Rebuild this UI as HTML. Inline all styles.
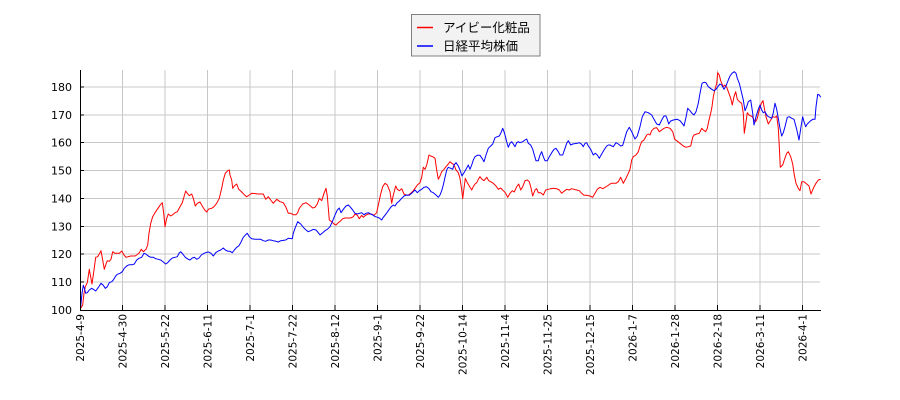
<!DOCTYPE html>
<html><head><meta charset="utf-8"><style>
html,body{margin:0;padding:0;background:#fff;}
svg{display:block;}
text{font-family:"DejaVu Sans","Liberation Sans","Noto Sans CJK JP",sans-serif;fill:#000;}
</style></head><body>
<svg width="900" height="400" viewBox="0 0 900 400" xmlns="http://www.w3.org/2000/svg">
<rect width="900" height="400" fill="#fff"/>
<g stroke="#c8c8c8" stroke-width="1" shape-rendering="crispEdges">
<line x1="80" y1="282.1" x2="820" y2="282.1"/>
<line x1="80" y1="254.2" x2="820" y2="254.2"/>
<line x1="80" y1="226.4" x2="820" y2="226.4"/>
<line x1="80" y1="198.5" x2="820" y2="198.5"/>
<line x1="80" y1="170.6" x2="820" y2="170.6"/>
<line x1="80" y1="142.7" x2="820" y2="142.7"/>
<line x1="80" y1="114.9" x2="820" y2="114.9"/>
<line x1="80" y1="87" x2="820" y2="87"/>
<line x1="122.5" y1="70" x2="122.5" y2="310"/>
<line x1="165" y1="70" x2="165" y2="310"/>
<line x1="207.5" y1="70" x2="207.5" y2="310"/>
<line x1="250" y1="70" x2="250" y2="310"/>
<line x1="292.5" y1="70" x2="292.5" y2="310"/>
<line x1="335" y1="70" x2="335" y2="310"/>
<line x1="377.5" y1="70" x2="377.5" y2="310"/>
<line x1="420" y1="70" x2="420" y2="310"/>
<line x1="462.5" y1="70" x2="462.5" y2="310"/>
<line x1="505" y1="70" x2="505" y2="310"/>
<line x1="547.5" y1="70" x2="547.5" y2="310"/>
<line x1="590" y1="70" x2="590" y2="310"/>
<line x1="632.5" y1="70" x2="632.5" y2="310"/>
<line x1="675" y1="70" x2="675" y2="310"/>
<line x1="717.5" y1="70" x2="717.5" y2="310"/>
<line x1="760" y1="70" x2="760" y2="310"/>
<line x1="802.5" y1="70" x2="802.5" y2="310"/>
</g>
<polyline fill="none" stroke="#ff0000" stroke-width="1" stroke-linejoin="round" points="80.7,308.3 82.7,305 84,293.3 85.3,286.7 87.3,282.7 89.3,269.3 92,284 94,270 95.7,257.3 97.7,256.7 100,252.7 101,250.7 102.7,260 104.3,269.3 106,264 107.3,260.7 109.3,261.3 111,259.3 112.7,251.7 115,253.3 119.3,253.3 121.7,251 124,255 126,257.3 130.7,256 135,256 136.7,255 139.3,252.7 141.3,249.3 143.3,251.7 146,249.3 147.7,245 149,233.3 150.7,223.3 152.7,216.7 155,212.7 157.3,209.3 160,205.3 162.3,202.7 163.7,213.3 165,226.7 166.7,218.3 168.3,214 170.7,216 172.7,214.7 175,212.7 177.3,211.7 180,206.7 182.3,202.7 184,196.7 185.7,191 187.3,193.3 189.3,195.7 191.7,194 193.3,198.3 195.3,206 197.3,203.3 200,202 202.7,206.7 204.7,210 206.7,212 208.7,209 211.7,208.3 214,206.7 216.7,203.3 219.3,198.3 221.7,188.3 223.3,180 225.3,173.3 227.7,170.7 229.3,170 230,175 231.7,180 232.7,188.3 234.3,186 236.7,184 238.7,189.3 241.7,192 244.3,194.7 246.7,196.7 249.3,195 251.7,193.3 258.3,194 263.3,194 265.7,199.3 268.3,196.7 270.7,200 273.3,203.3 276.7,199.3 280,201.7 283.3,202.7 285.7,206.7 288.3,213.3 290.7,213.3 293.3,214.7 296,214.7 297.7,212.7 299.3,208.3 302.7,204 306,202.7 309.3,205 312.7,208 315,207.3 317.3,204 319.3,198.3 321.7,200.7 324,193.3 326,188.3 327.3,196 329.3,220 331.7,221.7 334,224 336,225 338.3,222.7 340.7,220.7 342.7,218.7 345,218 350.7,218 353.3,216.7 355,214 357.3,215.3 359.3,218.7 361.7,215.3 363.3,217.3 366,215 368.3,214 371.7,214 374,215.3 376.7,212.7 378.3,205 380.7,194 382.7,186.7 385,183.3 387.3,185 390,191.7 391.7,203.3 393.3,195 395.7,186 397.3,189.3 399.3,190.7 401.7,188.7 404,194 406,195 408.3,195.3 410.7,193.3 413.3,190.7 415,188.3 417.3,185 420,182.7 421.7,177.3 423.3,167.3 425,169.3 426.7,165 429,155 430.7,156 432.7,156.7 435,158.3 436.7,170 438.3,179.3 440,176 441.7,171.7 444,169.3 446,166.7 448.3,164 450,161.7 451.7,163.3 454,164.7 456,170 458.3,172.7 460,178.3 461.7,190 462.7,198.7 464,188.3 465.3,178.3 467.3,182.7 469.3,186 471.7,190 473.3,186.7 475,184 476.7,182.7 478.7,178.7 480,176.7 482,179.3 484,180.7 486.7,177.3 488.7,180.7 490.7,181.7 493.3,183.3 496,186 498.3,189.3 500.7,188 503.3,190.7 505.3,192.7 507.7,197.3 510,193.3 512.3,190.7 514.3,192 516.7,186.7 518.7,184 520.7,190 522.7,186.7 525,180.7 527.3,180 529.3,181.7 530.7,186.7 532.7,196 535,190 536.7,188.7 538.3,192.7 540.7,192.7 543.3,195 545.7,190 548.3,189.3 550.7,188.7 553.3,188.3 556.7,188.7 559.3,190 561.7,193.3 564,191.3 566.7,189.3 569.3,190 571.7,188.7 574,189.3 576.7,190 579.3,190.7 581.7,193.3 584,195.3 586.7,195.3 590,196 592.7,197.3 595,193.3 597.3,189.3 600,187.3 602.7,188.7 605,187.3 607.3,186 610,184 611.7,183.3 616,183.3 618.3,181.7 620.7,177.3 623.3,183.3 626,178.3 628.3,173.3 630,169.3 631.7,160 633.3,156.7 636,155 638.3,151.7 640,146 641.7,141.7 644,140 646.7,135 648.3,134 650,135 651.7,130.7 654,128.3 656.7,127.7 659.3,131.7 661.7,130 664,128.3 666.7,127.3 670,128.3 672.7,131.7 674.7,139.3 676.7,140.7 680,143.3 683.3,146 686,147.3 688.3,146.7 690.7,146 692.7,137.3 694,135 696.7,134 699.3,133.3 701.7,128.3 703.3,130 705.7,131.7 707.3,128.3 709,120 710.7,113.3 712,106.7 713.3,96.7 715,89.3 716.7,83.3 717.7,72.7 719.3,75 720.7,80.7 722,84 723.3,86.7 725,85 726.7,87.3 728.3,91.7 730.7,98.3 732.3,105 734,96.7 735.7,91.7 737.3,99.3 739.3,101.7 741.7,103.3 743.3,113.3 744.3,133.3 745.7,124 747.3,112.7 749,115 752.3,116.7 754,120 755.7,121.7 757.3,118.3 759.3,110 761.3,103.3 763,100.7 764.3,108.3 766,116.7 768.3,124 770.7,120 772.7,116.7 775,117.3 776.7,116 778.3,128.3 779.3,146.7 780.3,167.3 782.7,165 784.3,160 786.7,153.3 788.3,151.7 790.7,156.7 792.7,164 794.3,175 796,183.3 798.3,188.3 800,190.7 801.7,181.7 804,181.7 806.7,184 809,186 811,194 813.3,188.3 816,183.3 818.3,180 820.7,179.3"/>
<polyline fill="none" stroke="#0000ff" stroke-width="1" stroke-linejoin="round" points="80.7,306.7 82,293.3 83.3,285.3 84.3,288 85.7,293.3 87.3,292.7 89.3,290 91.7,288.3 93.3,289.3 95.7,291 97.7,288.3 99.3,286 101,283.3 103.3,285.3 105.3,288.3 107.3,286.7 109.3,282.7 111.7,281.7 113.3,280 115.7,276 117.3,274.3 120,273.3 122.3,271.7 124.3,268.3 126.7,266 129.3,264.7 132.3,264.7 134.3,264 136.7,260 139,258.3 141.7,257.3 144,253.3 145.7,254 148.3,256 150.7,257.3 153.3,257.3 155.7,258.7 158.3,259.3 160.7,260 163.3,262 165.7,264 167.7,262.7 170,260 172.3,258 175,257.3 177.3,256.7 179,253.3 180.7,251.7 182.7,254 185.3,257.3 188.3,259.3 190,260 192.3,258 194.3,257.3 196.7,259.3 199,258 201.3,255 204,253.3 206.7,252.3 208.7,252 211,253.3 213.3,256 215.7,252.7 218.3,251 220.7,250 223.3,248 225.3,250 228,251.3 230,251.3 232.3,252.7 234.3,250 236.7,247.3 238.7,246 240.7,242.7 243.3,237.3 245.7,234.7 247.3,233.3 249.3,236.7 251.7,238.7 255,239.3 260.7,239.3 263.3,240.7 265.7,241.3 268.3,240 270.7,240 273.3,240.7 276,241.3 278.3,242 280.7,240.7 285.7,240 288.3,238.3 292.3,238.7 293.3,233.3 295,228.3 297.7,221.7 300.7,224 303.3,227.3 306,230 308.3,231.7 310.7,230.7 313.3,229.3 316,230 318.3,232.7 320,235 322.7,232.7 325,230.7 327.3,229.3 330,226.7 332.3,221.7 335,215 337.3,210 339.3,208 341,212.7 343.3,209.3 346,206 348.3,205 350,206.7 352.7,210 355,213.3 357.3,214 361.7,212.7 364,214.7 366,213.3 368.3,212.7 370.7,214 373.3,215.3 375.3,216.7 377.7,217.3 379.3,218 381.7,220 383.3,217.3 386,214 388.3,210.7 390.7,207.3 393.3,205 395,206 396.7,203.3 399.3,201 401.7,198.3 404,196 406.7,195 409.3,195.3 411.7,193.3 413.3,191.7 415,190 417.3,192.7 419.3,190.7 421.7,189.3 424,187.3 426.7,186.7 429,188.7 431,191.7 433.3,192.7 436,195 438.3,197.3 440,195 441.7,190.7 443.3,185 445,177.3 446.7,170 448.3,167.3 450.7,168.3 452.7,169.3 454,165 456,162.7 458.3,166 460,170 462,176 464,172.7 466,169.3 468.3,165 470,169.3 471.7,165 473.3,160 475,156.7 477.3,155.3 480,155.3 482,158.3 484,161.7 486,155 488.3,148.3 490.7,146 492.7,144 495,137.7 497.3,136.7 499.3,136 501,132.7 502.7,128.3 504,131.7 505.3,136 506.7,141.7 508.3,147.3 510,143.3 511.7,141.7 513.3,144 515,146.7 516.7,142.7 518.3,141.7 520,142.7 522.7,141.7 525,140 526.7,139 528.3,143.3 530.7,145 532.7,149.3 534.3,155 536,160.7 538.3,160.7 540,155 541.7,151.7 543.3,156.7 545,160.7 547.3,160.7 549.3,156.7 551.7,152.7 554,149.3 556,148.3 558.3,151.7 560,155 562.7,155 565,148.3 566.7,143.3 568.3,140.7 570.7,145 572.7,144 577.3,143.3 579.3,142.7 581.7,144.3 583.3,146.7 585,143.3 586.7,142.7 588.3,146 590.7,149.3 593.3,155 595.3,153.3 597.3,155 599.3,158.3 601.7,154 604,150 606.7,146 608.3,145 610,145 613.3,146.7 616,142.7 618.3,144 620.7,146 622.7,145.3 624.3,140 626.7,131.7 629.3,127.3 631.7,131.7 635,139 637.3,136 640,126.7 642.3,116.7 645,111.7 648.3,112.7 651.7,115 654,119.3 656.7,124 659.3,125 661.7,120 664,116 666,116 667.3,119.3 668.7,124 670.7,121 673.3,120 677.3,119.3 680,120.7 682.7,124 684,126 686,117.3 687.7,108.3 690,110.7 692,113.3 694,115 696,111.7 698.3,103.3 700,93.3 702,83.3 704,82.3 706,82.7 708.3,86.7 711.7,89.3 714,90.7 716,89.3 718.3,86 720,84 721.7,85 724,89.3 726,86 728.3,80 730,76 732,73.3 734.3,71.7 736,73.3 737.3,78.3 739.3,83.3 741.7,93.3 743.3,100 745,110.7 746.7,106.7 748.3,101.7 750.7,100 752.7,113.3 754,125 756,116.7 758.3,109.3 760,105 761.7,110 763.3,112.7 765,111.7 766.7,115 768.3,116.7 770,117.3 771.7,118.3 773.3,112.7 775,103.3 776.7,109.3 778.3,118.3 780,128.3 781.7,136 783.3,132.7 785,126.7 787.3,117.3 789.3,116.7 791.7,118.3 794,119.3 796.7,129.3 799,140 801,126.7 802.7,116.7 804,121.7 805.7,126.7 807.3,124 810,121.3 812.7,119.3 815,119.3 816,106.7 817.7,94.3 819.3,95 820.7,97.3"/>
<g stroke="#000" stroke-width="1" shape-rendering="crispEdges">
<line x1="80.5" y1="70" x2="80.5" y2="310.5"/>
<line x1="80" y1="310.5" x2="821" y2="310.5"/>
</g>
<g stroke="#000" stroke-width="1" shape-rendering="crispEdges">
<line x1="80" y1="282.1" x2="84" y2="282.1"/><line x1="80" y1="254.2" x2="84" y2="254.2"/><line x1="80" y1="226.4" x2="84" y2="226.4"/><line x1="80" y1="198.5" x2="84" y2="198.5"/><line x1="80" y1="170.6" x2="84" y2="170.6"/><line x1="80" y1="142.7" x2="84" y2="142.7"/><line x1="80" y1="114.9" x2="84" y2="114.9"/><line x1="80" y1="87" x2="84" y2="87"/>
<line x1="122.5" y1="305" x2="122.5" y2="310"/><line x1="165" y1="305" x2="165" y2="310"/><line x1="207.5" y1="305" x2="207.5" y2="310"/><line x1="250" y1="305" x2="250" y2="310"/><line x1="292.5" y1="305" x2="292.5" y2="310"/><line x1="335" y1="305" x2="335" y2="310"/><line x1="377.5" y1="305" x2="377.5" y2="310"/><line x1="420" y1="305" x2="420" y2="310"/><line x1="462.5" y1="305" x2="462.5" y2="310"/><line x1="505" y1="305" x2="505" y2="310"/><line x1="547.5" y1="305" x2="547.5" y2="310"/><line x1="590" y1="305" x2="590" y2="310"/><line x1="632.5" y1="305" x2="632.5" y2="310"/><line x1="675" y1="305" x2="675" y2="310"/><line x1="717.5" y1="305" x2="717.5" y2="310"/><line x1="760" y1="305" x2="760" y2="310"/><line x1="802.5" y1="305" x2="802.5" y2="310"/>
</g>
<g font-size="11" text-anchor="end">
<text x="72" y="314">100</text>
<text x="72" y="286.1">110</text>
<text x="72" y="258.2">120</text>
<text x="72" y="230.4">130</text>
<text x="72" y="202.5">140</text>
<text x="72" y="174.6">150</text>
<text x="72" y="146.7">160</text>
<text x="72" y="118.9">170</text>
<text x="72" y="91">180</text>
</g>
<g font-size="10.5" text-anchor="end">
<text transform="translate(84,314) rotate(-90)">2025-4-9</text>
<text transform="translate(126.5,314) rotate(-90)">2025-4-30</text>
<text transform="translate(169,314) rotate(-90)">2025-5-22</text>
<text transform="translate(211.5,314) rotate(-90)">2025-6-11</text>
<text transform="translate(254,314) rotate(-90)">2025-7-1</text>
<text transform="translate(296.5,314) rotate(-90)">2025-7-22</text>
<text transform="translate(339,314) rotate(-90)">2025-8-12</text>
<text transform="translate(381.5,314) rotate(-90)">2025-9-1</text>
<text transform="translate(424,314) rotate(-90)">2025-9-22</text>
<text transform="translate(466.5,314) rotate(-90)">2025-10-14</text>
<text transform="translate(509,314) rotate(-90)">2025-11-4</text>
<text transform="translate(551.5,314) rotate(-90)">2025-11-25</text>
<text transform="translate(594,314) rotate(-90)">2025-12-15</text>
<text transform="translate(636.5,314) rotate(-90)">2026-1-7</text>
<text transform="translate(679,314) rotate(-90)">2026-1-28</text>
<text transform="translate(721.5,314) rotate(-90)">2026-2-18</text>
<text transform="translate(764,314) rotate(-90)">2026-3-11</text>
<text transform="translate(806.5,314) rotate(-90)">2026-4-1</text>
</g>
<rect x="411.5" y="14.5" width="128.5" height="41.5" fill="#f2f2f2" stroke="#808080" stroke-width="1"/>
<line x1="417" y1="27.5" x2="433" y2="27.5" stroke="#ff0000" stroke-width="1.5"/>
<line x1="417" y1="46" x2="433" y2="46" stroke="#0000ff" stroke-width="1.5"/>
<g font-size="12.5" style="font-family:'Noto Sans CJK JP','Liberation Sans',sans-serif">
<text x="443" y="32">アイビー化粧品</text>
<text x="443" y="50.5">日経平均株価</text>
</g>
</svg>
</body></html>
